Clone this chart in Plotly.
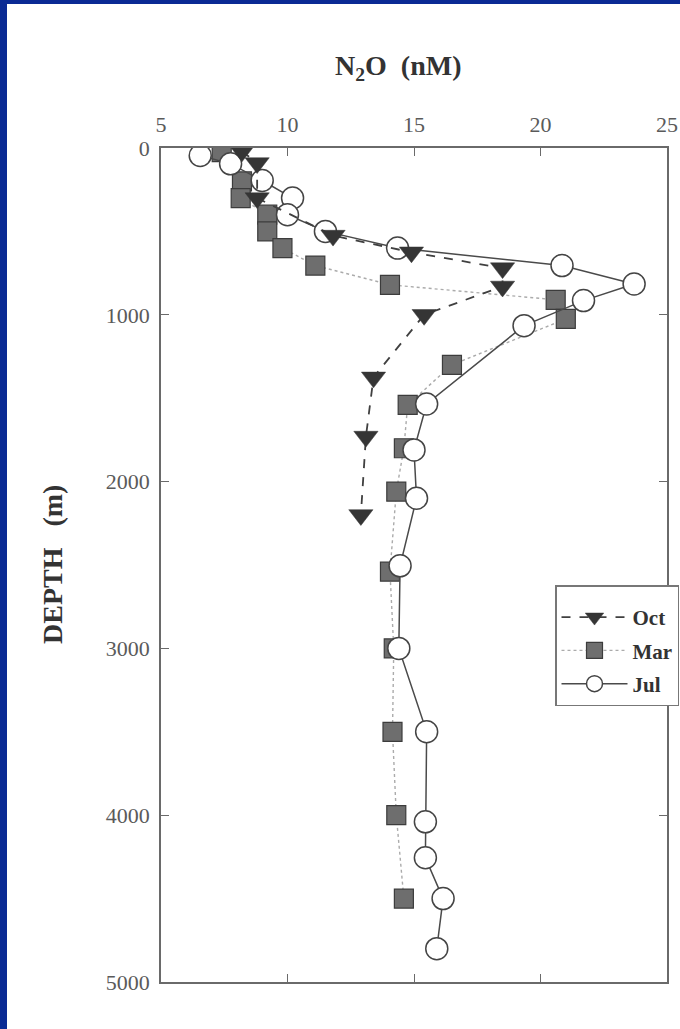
import plotly.graph_objects as go

# N2O depth profiles (nM vs. depth in m) for three cruises
oct_n2o = [8.2, 8.8, 8.8, 11.8, 14.9, 18.5, 18.5, 15.4, 13.4, 13.1, 12.9]
oct_depth = [20, 90, 300, 525, 625, 720, 830, 1000, 1375, 1730, 2200]

mar_n2o = [7.4, 8.2, 8.15, 9.2, 9.2, 9.8, 11.1, 14.05, 20.6, 21.0, 16.5,
           14.75, 14.6, 14.3, 14.05, 14.2, 14.15, 14.3, 14.6]
mar_depth = [25, 200, 300, 400, 500, 600, 705, 820, 910, 1025, 1300,
             1540, 1800, 2060, 2540, 3000, 3500, 4000, 4500]

jul_n2o = [6.55, 7.75, 9.0, 10.2, 10.0, 11.5, 14.35, 20.85, 23.7, 21.7, 19.35,
           15.5, 15.0, 15.1, 14.45, 14.4, 15.5, 15.45, 15.45, 16.15, 15.9]
jul_depth = [45, 95, 195, 300, 400, 500, 600, 705, 815, 915, 1065,
             1535, 1810, 2100, 2505, 3000, 3500, 4040, 4255, 4500, 4800]

series_names = ["Oct", "Mar", "Jul"]
x_ticks = [5, 10, 15, 20, 25]
y_ticks = [0, 1000, 2000, 3000, 4000, 5000]

W, H = 680, 1029
L, R, T, B = 161, 13, 148, 47
pw, ph = W - L - R, H - T - B

serif = "Liberation Serif, Times New Roman, serif"

fig = go.Figure()

fig.add_trace(go.Scatter(
    x=mar_n2o, y=mar_depth, name=series_names[1], mode="lines+markers",
    legendgroup="mar", legendrank=2,
    line=dict(color="#ababab", width=1.4, dash="dot"),
    marker=dict(symbol="square", size=19, color="#6e6e6e",
                line=dict(color="#3c3c3c", width=1.2)),
))
fig.add_trace(go.Scatter(
    x=jul_n2o, y=jul_depth, name=series_names[2], mode="lines+markers",
    legendgroup="jul", legendrank=3,
    line=dict(color="#4a4a4a", width=1.5),
    marker=dict(symbol="circle", size=22, color="white",
                line=dict(color="#444444", width=1.5)),
))
fig.add_trace(go.Scatter(
    x=oct_n2o, y=oct_depth, name=series_names[0], mode="lines+markers",
    legendgroup="oct", legendrank=1,
    line=dict(color="#404040", width=1.8, dash="dash"),
    marker=dict(symbol="triangle-down", size=21, color="#353535",
                line=dict(color="#353535", width=0.5)),
))

axis_common = dict(
    showline=True, linecolor="#6a6a6a", linewidth=1.5, mirror="allticks",
    ticks="inside", ticklen=8, tickwidth=1.2, tickcolor="#6a6a6a",
    showgrid=False, zeroline=False,
    tickfont=dict(family=serif, size=22, color="#5a5a5a"),
)

fig.update_xaxes(range=[5, 25], tickvals=x_ticks, side="top",
                 ticklabelstandoff=5, **axis_common)
fig.update_yaxes(range=[5000, 0], tickvals=y_ticks,
                 ticklabelstandoff=5, **axis_common)

# dark blue frame along the top and left edges of the page
frame = "#0a2a94"
fig.add_shape(type="rect", xref="paper", yref="paper",
              x0=-L / pw, x1=(7 - L) / pw, y0=-B / ph - 0.01, y1=(H - B) / ph + 0.01,
              fillcolor=frame, line=dict(width=0), layer="above")
fig.add_shape(type="rect", xref="paper", yref="paper",
              x0=-L / pw, x1=(W - L) / pw + 0.01, y0=(H - B - 4) / ph, y1=(H - B) / ph + 0.01,
              fillcolor=frame, line=dict(width=0), layer="above")

fig.add_annotation(
    text="<b>N<sub>2</sub>O  (nM)</b>", xref="paper", yref="paper",
    x=(398 - L) / pw, y=(H - B - 68) / ph, xanchor="center", yanchor="middle",
    showarrow=False, font=dict(family=serif, size=28, color="#333333"),
)
fig.add_annotation(
    text="<b>DEPTH   (m)</b>", xref="paper", yref="paper",
    x=(52 - L) / pw, y=(H - B - 565) / ph, xanchor="center", yanchor="middle",
    textangle=-90,
    showarrow=False, font=dict(family=serif, size=28, color="#333333"),
)

fig.update_layout(
    width=W, height=H,
    margin=dict(l=L, r=R, t=T, b=B, autoexpand=False),
    paper_bgcolor="white", plot_bgcolor="white",
    showlegend=True,
    legend=dict(
        x=(555 - L) / pw, y=(H - B - 585) / ph, xanchor="left", yanchor="top",
        bgcolor="white", bordercolor="#777777", borderwidth=1.5,
        font=dict(family=serif, size=21, color="#333333", weight="bold"),
        itemwidth=66, traceorder="grouped", tracegroupgap=3,
        title=dict(text=" ", font=dict(size=8)),
    ),
)

fig.write_html("out.html")
